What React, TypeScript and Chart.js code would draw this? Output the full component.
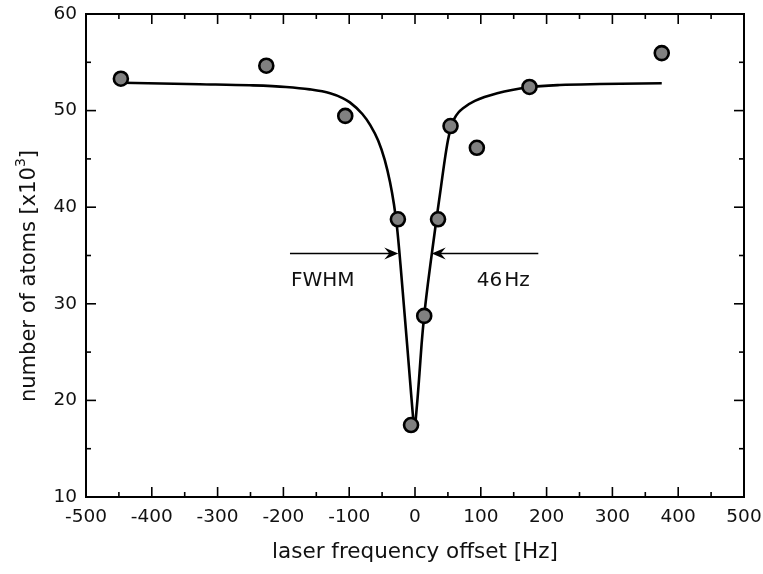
import React, { useEffect, useRef } from "react";
import { Chart, registerables } from "chart.js";
Chart.register(...registerables);

// measured atoms vs. laser frequency offset
const pointFreq = [-447, -226, -106, -26, -6, 14, 35, 54, 94, 174, 375];
const pointAtoms = [53.3, 54.65, 49.45, 38.75, 17.45, 28.75, 38.75, 48.4, 46.15, 52.45, 55.95];

// fitted curve
const fitFreq = [-445, -327, -251, -196, -160, -129, -110, -99, -80, -68, -56, -46, -38, -32, -27, -22, -17, -12, -7, -3.5, -1, 3, 6.8, 10, 13.7, 19.8, 25.8, 32.7, 39.5, 45, 50, 54.7, 60, 66, 73, 91, 125, 173, 220, 281, 375];
const fitAtoms = [52.89, 52.73, 52.62, 52.45, 52.2, 51.8, 51.3, 50.85, 49.65, 48.5, 46.9, 44.9, 42.6, 40.3, 37.7, 34.0, 29.9, 25.8, 21.6, 18.7, 17.1, 19.5, 22.8, 25.8, 28.6, 32.2, 35.3, 38.8, 42.1, 44.8, 46.9, 48.3, 49.2, 49.8, 50.25, 51.0, 51.79, 52.41, 52.65, 52.75, 52.83];

// axis ticks
const xMajorTicks = [-500, -400, -300, -200, -100, 0, 100, 200, 300, 400, 500];
const xMinorTicks = [-450, -350, -250, -150, -50, 50, 150, 250, 350, 450];
const yMajorTicks = [10, 20, 30, 40, 50, 60];
const yMinorTicks = [15, 25, 35, 45, 55];

// FWHM annotation (data units)
const arrowLevel = 35.2;
const leftArrow = [-190, -25.4];
const rightArrow = [187.4, 25.4];
const fwhmLabel = "FWHM";
const widthLabel = "46 Hz";
const widthLabelAt = 94;

const xTitle = "laser frequency offset [Hz]";
const yTitleMain = "number of atoms [x10";
const yTitleSup = "3";
const yTitleEnd = "]";

const FONT = "'DejaVu Sans', sans-serif";
const TEXT = "#111";

const framePlugin = {
  id: "frame",
  afterDraw(chart: any) {
    const { ctx, chartArea: a, scales } = chart;
    const x = scales.x;
    const y = scales.y;
    ctx.save();
    ctx.strokeStyle = "#000";
    ctx.lineCap = "butt";
    const seg = (x1: number, y1: number, x2: number, y2: number) => {
      ctx.beginPath();
      ctx.moveTo(x1, y1);
      ctx.lineTo(x2, y2);
      ctx.stroke();
    };
    ctx.lineWidth = 1.6;
    const xt = (v: number, len: number) => {
      const p = x.getPixelForValue(v);
      seg(p, a.bottom, p, a.bottom - len);
      seg(p, a.top, p, a.top + len);
    };
    const yt = (v: number, len: number) => {
      const p = y.getPixelForValue(v);
      seg(a.left, p, a.left + len, p);
      seg(a.right, p, a.right - len, p);
    };
    xMajorTicks.forEach((v) => xt(v, 10));
    xMinorTicks.forEach((v) => xt(v, 5));
    yMajorTicks.forEach((v) => yt(v, 10));
    yMinorTicks.forEach((v) => yt(v, 5));
    ctx.lineWidth = 2;
    ctx.strokeRect(a.left, a.top, a.right - a.left, a.bottom - a.top);

    // arrows
    const ay = y.getPixelForValue(arrowLevel);
    const arrow = (fromV: number, toV: number) => {
      const x1 = x.getPixelForValue(fromV);
      const x2 = x.getPixelForValue(toV);
      const dir = x2 > x1 ? 1 : -1;
      ctx.lineWidth = 1.6;
      seg(x1, ay, x2 - dir * 6, ay);
      ctx.fillStyle = "#000";
      ctx.beginPath();
      ctx.moveTo(x2, ay);
      ctx.lineTo(x2 - dir * 14, ay - 6);
      ctx.lineTo(x2 - dir * 9, ay);
      ctx.lineTo(x2 - dir * 14, ay + 6);
      ctx.closePath();
      ctx.fill();
    };
    arrow(leftArrow[0], leftArrow[1]);
    arrow(rightArrow[0], rightArrow[1]);

    ctx.fillStyle = TEXT;
    ctx.font = `20px ${FONT}`;
    ctx.textBaseline = "alphabetic";
    ctx.textAlign = "left";
    ctx.fillText(fwhmLabel, x.getPixelForValue(leftArrow[0]) + 1, ay + 32);
    const parts = widthLabel.split(" ");
    let lx = x.getPixelForValue(widthLabelAt);
    parts.forEach((p) => {
      ctx.fillText(p, lx, ay + 32);
      lx += ctx.measureText(p).width + 2;
    });

    // x title
    ctx.font = `21.5px ${FONT}`;
    ctx.textAlign = "center";
    ctx.fillText(xTitle, (a.left + a.right) / 2, 558);

    // y title with superscript
    ctx.save();
    ctx.translate(35, 276);
    ctx.rotate(-Math.PI / 2);
    ctx.font = `21px ${FONT}`;
    const w1 = ctx.measureText(yTitleMain).width;
    ctx.font = `14px ${FONT}`;
    const w2 = ctx.measureText(yTitleSup).width;
    ctx.font = `21px ${FONT}`;
    const w3 = ctx.measureText(yTitleEnd).width;
    let sx = -(w1 + w2 + w3) / 2;
    ctx.textAlign = "left";
    ctx.fillText(yTitleMain, sx, 0);
    sx += w1;
    ctx.font = `14px ${FONT}`;
    ctx.fillText(yTitleSup, sx, -10);
    sx += w2;
    ctx.font = `21px ${FONT}`;
    ctx.fillText(yTitleEnd, sx, 0);
    ctx.restore();
    ctx.restore();
  },
};

export default function App() {
  const ref = useRef<HTMLCanvasElement | null>(null);
  useEffect(() => {
    if (!ref.current) return;
    const chart = new Chart(ref.current, {
      type: "scatter",
      data: {
        datasets: [
          {
            label: "data",
            data: pointFreq.map((f, i) => ({ x: f, y: pointAtoms[i] })),
            pointRadius: 7,
            pointBorderWidth: 2.6,
            pointBackgroundColor: "#808080",
            pointBorderColor: "#000",
            showLine: false,
            clip: false,
          },
          {
            label: "fit",
            data: fitFreq.map((f, i) => ({ x: f, y: fitAtoms[i] })),
            showLine: true,
            pointRadius: 0,
            borderColor: "#000",
            borderWidth: 2.6,
            cubicInterpolationMode: "monotone",
            fill: false,
          },
        ],
      },
      options: {
        animation: false,
        responsive: false,
        maintainAspectRatio: false,
        devicePixelRatio: 1,
        layout: { padding: { top: 14, right: 19, left: 0, bottom: 0 } },
        plugins: { legend: { display: false }, tooltip: { enabled: false } },
        events: [],
        scales: {
          x: {
            type: "linear",
            min: -500,
            max: 500,
            grid: { display: false, drawTicks: false },
            border: { display: false },
            ticks: {
              stepSize: 100,
              padding: 9,
              color: TEXT,
              font: { family: FONT, size: 18.5 },
              maxRotation: 0,
            },
            afterFit: (s: any) => {
              s.height = 77;
              s.paddingLeft = 0;
              s.paddingRight = 0;
            },
          },
          y: {
            type: "linear",
            min: 10,
            max: 60,
            grid: { display: false, drawTicks: false },
            border: { display: false },
            ticks: {
              stepSize: 10,
              padding: 9,
              color: TEXT,
              font: { family: FONT, size: 18.5 },
            },
            afterFit: (s: any) => {
              s.width = 86;
              s.paddingTop = 0;
              s.paddingBottom = 0;
            },
          },
        },
      },
      plugins: [framePlugin],
    } as any);
    return () => chart.destroy();
  }, []);
  return (
    <div style={{ position: "fixed", left: 0, top: 0, width: 763, height: 574 }}>
      <canvas ref={ref} width={763} height={574} style={{ width: 763, height: 574 }} />
    </div>
  );
}
